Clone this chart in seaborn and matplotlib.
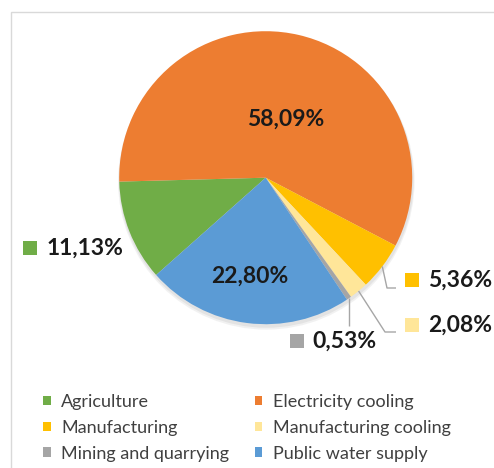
import matplotlib
matplotlib.use("Agg")
import matplotlib.pyplot as plt
from matplotlib.patches import Rectangle, Circle
import numpy as np
import seaborn as sns

sns.set_theme(style="white")
plt.rcParams["font.family"] = ["Lato", "DejaVu Sans"]

# Data
sectors = ["Agriculture", "Electricity cooling", "Manufacturing",
           "Manufacturing cooling", "Mining and quarrying", "Public water supply"]
shares = [11.13, 58.09, 5.36, 2.08, 0.53, 22.80]
share_labels = ["11,13%", "58,09%", "5,36%", "2,08%", "0,53%", "22,80%"]
colors = ["#70AD47", "#ED7D31", "#FFC000", "#FFE699", "#A5A5A5", "#5B9BD5"]

# Figure in pixels, pie centre and radius in pixels
W, H = 494, 468
cx, cy, r = 265.7, 177.7, 146.5

fig = plt.figure(figsize=(W / 100, H / 100), dpi=100)
ax = fig.add_axes([0, 0, 1, 1])

# soft shadow under the pie
for off, rad, a in [(0.025, 1.012, 0.10), (0.018, 1.006, 0.12)]:
    ax.add_patch(Circle((0.004, -off), rad, color="#7f7f7f", alpha=a, lw=0, zorder=0))

wedges, _ = ax.pie(shares, colors=colors, startangle=-138.4, counterclock=False,
                   radius=1, wedgeprops=dict(linewidth=0, zorder=2))

ax.set_xlim(-cx / r, (W - cx) / r)
ax.set_ylim(-(H - cy) / r, cy / r)
ax.set_aspect("equal")
ax.axis("off")


def px(x, y):
    # pixel position -> data position
    return (x - cx) / r, (cy - y) / r


def mid_edge(w):
    a = np.deg2rad((w.theta1 + w.theta2) / 2)
    return np.cos(a), np.sin(a)


lab_font = dict(fontsize=16.5, fontweight="bold", color="#1a1a1a")

# labels inside the pie
ax.text(*px(286, 119), share_labels[1], ha="center", va="center", zorder=5, **lab_font)
ax.text(*px(250, 276), share_labels[5], ha="center", va="center", zorder=5, **lab_font)

# outside labels: key square position (left, top) and text start, pixels
outside = {
    0: ((23.3, 241), 47),
    2: ((405, 273), 428),
    3: ((405, 318), 428),
    4: ((290, 334), 312),
}
sq = 13.5
for i, ((kx, ky), tx) in outside.items():
    x0, y0 = px(kx, ky + sq)
    ax.add_patch(Rectangle((x0, y0), sq / r, sq / r, color=colors[i], lw=0, zorder=5))
    ax.text(*px(tx, ky + sq / 2), share_labels[i], ha="left", va="center", zorder=5, **lab_font)

# leader lines
line_kw = dict(color="#A6A6A6", lw=1, zorder=4, solid_capstyle="butt")
ex, ey = mid_edge(wedges[2])
bx, by = px(387, 288)
ax.plot([ex, bx, px(396, 288)[0]], [ey, by, by], **line_kw)
ex, ey = mid_edge(wedges[3])
bx, by = px(385, 332)
ax.plot([ex, bx, px(396, 332)[0]], [ey, by, by], **line_kw)
ex, ey = mid_edge(wedges[4])
ax.plot([ex, ex], [ey, px(0, 326)[1]], **line_kw)

# legend, entries ordered row by row like the original
order = [0, 2, 4, 1, 3, 5]
fig.legend([wedges[i] for i in order], [sectors[i] for i in order], ncol=2,
           loc="upper left", bbox_to_anchor=(43 / W, 1 - 394 / H), frameon=False,
           fontsize=13, labelcolor="#404040", handlelength=0.42, handleheight=0.42,
           handletextpad=0.6, labelspacing=0.54, columnspacing=1.4,
           borderpad=0, borderaxespad=0)

# chart area border (only left and top edges are visible)
fig.add_artist(Rectangle((11 / W, -0.1), 1.2, 1.1 - 12 / H, transform=fig.transFigure,
                         fill=False, edgecolor="#D9D9D9", lw=1))

fig.savefig("out.png", dpi=100)
